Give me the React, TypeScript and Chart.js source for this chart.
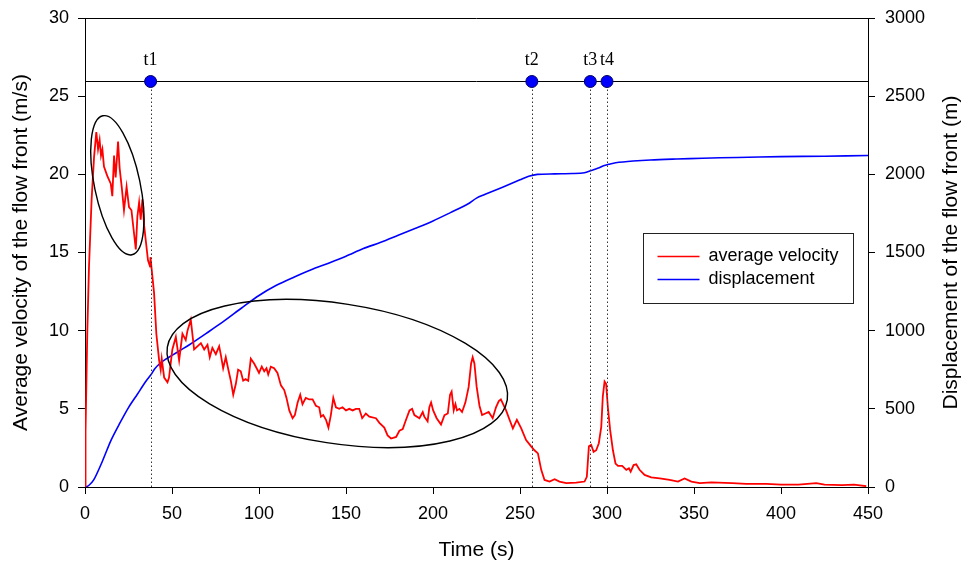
import React, { useEffect, useRef } from "react";
import { Chart, registerables } from "chart.js";

Chart.register(...registerables);

// ---- data ----
const velTime = [
  0, 0.3, 1.3, 2.3, 3.8, 5.2, 6.5, 7.5, 8.4, 9.2, 10.0, 10.9, 12.8, 14.8, 15.7, 16.7, 17.6, 19.0, 19.9, 21.1,
  22.4, 23.9, 25.3, 26.7, 28.2, 29.2, 30.1, 31.1, 32.0, 33.0, 34.0, 34.9, 36.2, 37.4, 37.6, 38.7, 39.7, 41.0,
  42.6, 43.5, 44.1, 45.5, 47.4, 48.3, 50.2, 52.2, 54.1, 56.0, 57.9, 58.9, 60.8, 62.7, 64.6, 66.6, 68.5, 70.4,
  71.7, 73.2, 75.2, 77.1, 78.0, 79.4, 80.9, 82.4, 83.8, 85.2, 86.7, 88.0, 89.5, 90.9, 92.3, 93.8, 95.3, 97.2,
  99.1, 100.0, 101.6, 103.0, 104.3, 105.3, 106.8, 108.7, 110.6, 112.6, 114.5, 115.8, 117.4, 119.3, 120.6,
  122.2, 123.7, 125.0, 126.9, 128.9, 130.8, 132.7, 134.6, 135.6, 136.9, 138.5, 139.9, 141.3, 142.7, 144.2,
  146.1, 148.0, 150.0, 151.9, 153.8, 155.7, 157.6, 159.3, 161.4, 163.4, 167.2, 169.2, 172.0, 173.9, 175.9,
  178.8, 180.7, 182.6, 184.5, 186.5, 188.0, 189.3, 192.2, 194.1, 195.0, 196.9, 197.9, 198.9, 200.1, 202.1,
  204.6, 206.6, 208.5, 209.8, 210.7, 211.9, 212.9, 213.8, 215.2, 216.7, 218.6, 220.5, 221.9, 222.8, 223.8,
  225.1, 226.7, 228.2, 230.1, 232.0, 234.3, 236.2, 237.8, 239.0, 242.0, 244.0, 245.9, 248.2, 250.7, 253.5,
  256.4, 258.3, 260.3, 262.2, 264.1, 267.0, 269.9, 272.7, 276.6, 282.3, 287.1, 288.4, 289.6, 290.9, 292.3,
  293.8, 295.3, 296.7, 297.6, 298.6, 299.5, 300.5, 301.8, 303.4, 304.9, 306.3, 308.7, 311.1, 312.6, 313.6,
  315.3, 316.8, 318.7, 321.6, 325.4, 330.3, 336.0, 340.8, 344.6, 348.5, 353.3, 360, 372, 380, 391.6, 400, 410,
  420.3, 425, 435, 442, 449,
];
const velValue = [
  0, 3.5, 9.8, 14.1, 18.4, 21.1, 22.7, 21.6, 22.2, 21.2, 21.6, 20.5, 19.9, 19.4, 18.6, 21.2, 19.8, 22.1, 20.4, 19.2,
  17.7, 19.2, 17.9, 17.7, 16.2, 15.2, 17.3, 18.2, 17.1, 18.4, 16.7, 15.8, 14.5, 14.1, 14.7, 13.5, 12.4, 9.8,
  8.1, 7.5, 8.2, 7.0, 6.7, 7.0, 8.8, 9.6, 8.1, 9.8, 9.4, 10.0, 10.7, 8.8, 9.0, 9.2, 8.8, 9.1,
  8.3, 8.9, 8.5, 9.0, 8.5, 7.6, 8.3, 7.5, 6.8, 5.9, 6.6, 7.5, 7.4, 6.8, 6.9, 6.8, 8.2, 7.9,
  7.5, 7.3, 7.7, 7.4, 7.6, 7.2, 7.7, 7.6, 7.3, 6.5, 6.2, 5.7, 4.9, 4.4, 4.6,
  5.4, 5.9, 5.3, 5.7, 5.6, 5.6, 5.2, 5.1, 4.5, 4.6, 4.3, 3.8, 4.6, 5.7, 5.1,
  5.0, 5.1, 4.9, 5.0, 4.9, 5.0, 5.0, 4.4, 4.7, 4.5, 4.4, 4.1, 3.8, 3.3, 3.1,
  3.2, 3.6, 3.7, 4.3, 4.9, 5.0, 4.6, 4.4, 4.8, 4.5, 4.2, 5.1, 5.4, 4.9, 4.4,
  4.0, 4.6, 4.7, 5.9, 6.1, 4.9, 5.3, 4.9, 5.0, 4.8, 5.4, 6.4, 7.9, 8.3, 7.9,
  6.4, 5.2, 4.6, 4.7, 4.8, 4.4, 5.1, 5.5, 5.6, 4.9, 4.3, 3.75, 4.3, 3.75, 3.0,
  2.6, 2.35, 2.15, 1.1, 0.45, 0.35, 0.5, 0.35, 0.25, 0.28, 0.35, 0.65, 2.6, 2.7, 2.25,
  2.35, 2.8, 3.85, 5.8, 6.75, 6.6, 5.1, 3.65, 2.35, 1.5, 1.35, 1.35, 1.1, 1.2, 0.98,
  1.4, 1.45, 1.1, 0.77, 0.62, 0.55, 0.45, 0.35, 0.55, 0.35, 0.25, 0.3, 0.25, 0.2, 0.2, 0.15, 0.15,
  0.25, 0.15, 0.12, 0.15, 0.05,
];

const dispTime = [
  0, 2, 5, 10, 15, 20, 25, 30, 35, 38, 40, 43, 46, 50, 55, 60, 70, 80, 90, 100, 110, 120, 130, 140, 150, 160,
  170, 180, 190, 200, 210, 220, 225, 230, 240, 250, 255, 260, 270, 280, 287, 291, 295, 298, 301, 305, 315, 325,
  340, 355, 375, 400, 425, 450,
];
const dispValue = [
  0, 8, 45, 165, 300, 408, 508, 592, 676, 720, 755, 790, 815, 842, 876, 910, 985, 1062, 1145, 1225, 1290, 1342,
  1390, 1432, 1476, 1525, 1565, 1610, 1655, 1702, 1755, 1810, 1848, 1872, 1918, 1965, 1988, 2000, 2003, 2005,
  2010, 2025, 2040, 2055, 2064, 2074, 2085, 2092, 2098, 2103, 2108, 2113, 2116, 2120,
];

const seriesLabels = ["average velocity", "displacement"];
const eventLabels = ["t1", "t2", "t3", "t4"];
const eventTimes = [37.7, 256.8, 290.4, 300];
const eventLevel = 26;
const rightTitle = "Displacement of the flow front (m)";

// annotation ellipses: centre in data units
const ellipseT = [18.6, 145];
const ellipseV = [19.3, 7.26];

const FONT = '"Liberation Sans", Arial, Helvetica, sans-serif';

const overlayPlugin = {
  id: "overlay",
  afterDatasetsDraw(chart: any) {
    const { ctx, chartArea: a } = chart;
    const x = chart.scales.x;
    const y = chart.scales.y;
    ctx.save();
    // top frame line
    ctx.strokeStyle = "#000";
    ctx.lineWidth = 1;
    ctx.beginPath();
    ctx.moveTo(a.left, Math.round(a.top) + 0.5);
    ctx.lineTo(a.right, Math.round(a.top) + 0.5);
    ctx.stroke();

    // event level line
    const yl = Math.round(y.getPixelForValue(eventLevel)) + 0.5;
    ctx.beginPath();
    ctx.moveTo(a.left, yl);
    ctx.lineTo(a.right, yl);
    ctx.stroke();

    // dotted drop lines
    ctx.strokeStyle = "#333";
    ctx.setLineDash([1.5, 2.5]);
    eventTimes.forEach((t) => {
      const px = Math.round(x.getPixelForValue(t)) + 0.5;
      ctx.beginPath();
      ctx.moveTo(px, yl);
      ctx.lineTo(px, a.bottom);
      ctx.stroke();
    });
    ctx.setLineDash([]);

    // ellipses
    const ellR = [
      [71, 22.8, 78.2],
      [172, 70, 8.8],
    ];
    ctx.strokeStyle = "#000";
    ctx.lineWidth = 1.4;
    ellipseT.forEach((t, i) => {
      const cx = x.getPixelForValue(t);
      const cy = y.getPixelForValue(ellipseV[i]);
      const [rx, ry, rot] = ellR[i];
      ctx.beginPath();
      ctx.ellipse(cx, cy, rx, ry, (rot * Math.PI) / 180, 0, Math.PI * 2);
      ctx.stroke();
    });

    // markers + labels
    eventTimes.forEach((t, i) => {
      const px = x.getPixelForValue(t);
      ctx.beginPath();
      ctx.arc(px, yl, 6, 0, Math.PI * 2);
      ctx.fillStyle = "#0000ff";
      ctx.fill();
      ctx.lineWidth = 1;
      ctx.strokeStyle = "#000060";
      ctx.stroke();
      ctx.fillStyle = "#000";
      ctx.font = '18px "Liberation Serif", "Times New Roman", serif';
      ctx.textAlign = "center";
      ctx.textBaseline = "alphabetic";
      ctx.fillText(eventLabels[i], px, yl - 17);
    });

    // legend box
    const bx = Math.round(a.right - 225) + 0.5;
    const by = Math.round(a.top + 215) + 0.5;
    const bw = 210;
    const bh = 70;
    ctx.fillStyle = "#fff";
    ctx.fillRect(bx, by, bw, bh);
    ctx.strokeStyle = "#222";
    ctx.lineWidth = 1;
    ctx.strokeRect(bx, by, bw, bh);
    const colors = ["#ff0000", "#0000ff"];
    seriesLabels.forEach((lab, i) => {
      const ry = by + 23 + i * 23;
      ctx.strokeStyle = colors[i];
      ctx.lineWidth = 1.6;
      ctx.beginPath();
      ctx.moveTo(bx + 14, ry);
      ctx.lineTo(bx + 56, ry);
      ctx.stroke();
      ctx.fillStyle = "#000";
      ctx.font = "18px " + FONT;
      ctx.textAlign = "left";
      ctx.textBaseline = "middle";
      ctx.fillText(lab, bx + 65, ry);
    });

    // right axis title, reading bottom-to-top like the left one
    ctx.save();
    ctx.translate(a.right + 83, (a.top + a.bottom) / 2);
    ctx.rotate(-Math.PI / 2);
    ctx.fillStyle = "#000";
    ctx.font = "21px " + FONT;
    ctx.textAlign = "center";
    ctx.textBaseline = "middle";
    ctx.fillText(rightTitle, 0, 0);
    ctx.restore();

    ctx.restore();
  },
};

export default function App() {
  const ref = useRef<HTMLCanvasElement | null>(null);
  useEffect(() => {
    if (!ref.current) return;
    const velPts = velTime.map((t, i) => ({ x: t, y: velValue[i] }));
    const dispPts = dispTime.map((t, i) => ({ x: t, y: dispValue[i] }));
    const tickFont = { family: FONT, size: 18 };
    const titleFont = { family: FONT, size: 21 };
    const plain = (v: any) => String(v);
    const chart = new Chart(ref.current, {
      type: "line",
      data: {
        datasets: [
          {
            label: seriesLabels[0],
            data: velPts,
            borderColor: "#ff0000",
            borderWidth: 1.8,
            pointRadius: 0,
            tension: 0,
            yAxisID: "y",
          },
          {
            label: seriesLabels[1],
            data: dispPts,
            borderColor: "#0000ff",
            borderWidth: 1.6,
            pointRadius: 0,
            tension: 0.3,
            yAxisID: "y2",
          },
        ],
      },
      options: {
        responsive: false,
        animation: false,
        devicePixelRatio: 1,
        layout: { padding: { top: 18, left: 0, right: 0, bottom: 0 } },
        plugins: { legend: { display: false }, tooltip: { enabled: false } },
        scales: {
          x: {
            type: "linear",
            min: 0,
            max: 450,
            ticks: { stepSize: 50, font: tickFont, color: "#000", padding: 9, callback: plain },
            grid: { drawOnChartArea: false, tickLength: 7, color: "#000" },
            border: { color: "#000", width: 1 },
            title: { display: true, text: "Time (s)", font: titleFont, color: "#000", padding: { top: 0, bottom: 3 } },
            afterFit: (s: any) => {
              s.height = 79;
              s.paddingLeft = 0;
              s.paddingRight = 0;
            },
          },
          y: {
            position: "left",
            min: 0,
            max: 30,
            ticks: { stepSize: 5, font: tickFont, color: "#000", padding: 9, callback: plain },
            grid: { drawOnChartArea: false, tickLength: 7, color: "#000" },
            border: { color: "#000", width: 1 },
            title: {
              display: true,
              text: "Average velocity of the flow front (m/s)",
              font: titleFont,
              color: "#000",
              padding: { top: 9, bottom: 0 },
            },
            afterFit: (s: any) => {
              s.width = 85;
              s.paddingTop = 0;
              s.paddingBottom = 0;
            },
          },
          y2: {
            position: "right",
            min: 0,
            max: 3000,
            ticks: { stepSize: 500, font: tickFont, color: "#000", padding: 10, callback: plain },
            grid: { drawOnChartArea: false, tickLength: 7, color: "#000" },
            border: { color: "#000", width: 1 },
            title: { display: false },
            afterFit: (s: any) => {
              s.width = 101;
              s.paddingTop = 0;
              s.paddingBottom = 0;
            },
          },
        },
      },
      plugins: [overlayPlugin],
    });
    return () => chart.destroy();
  }, []);
  return (
    <div style={{ position: "absolute", left: 0, top: 0, width: 969, height: 566, background: "#fff" }}>
      <canvas ref={ref} width={969} height={566} style={{ display: "block" }} />
    </div>
  );
}
